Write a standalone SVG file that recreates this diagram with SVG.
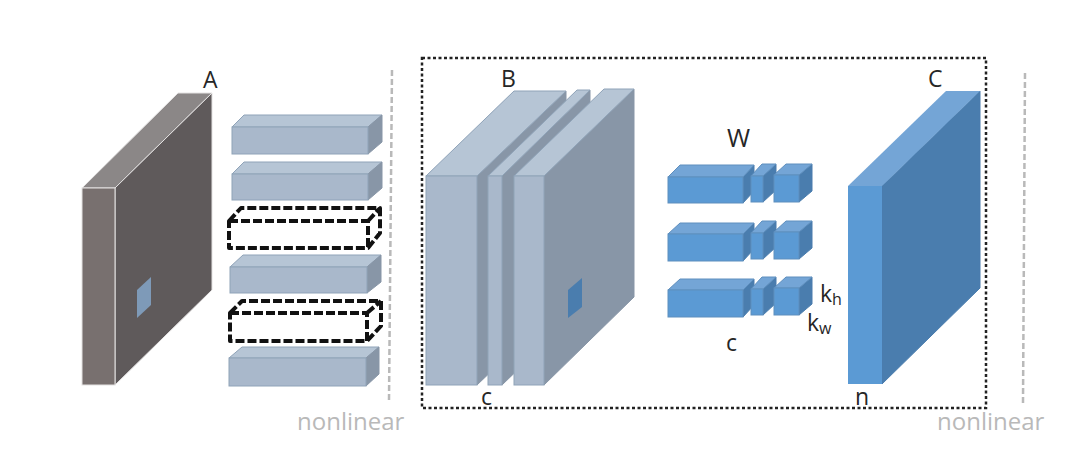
<svg xmlns="http://www.w3.org/2000/svg" width="1080" height="467" viewBox="0 0 1080 467">
<style>
text{font-family:"Open Sans","Liberation Sans",sans-serif;fill:#262626}
.lb{font-size:23px}
.nl{font-size:24px;fill:#b9b9b9}
.sub{font-size:16px}
.gt{fill:#8b8787;stroke:#e4e2e2;stroke-width:1}
.gf{fill:#78706f;stroke:#e4e2e2;stroke-width:1}
.gs{fill:#5f5a5b;stroke:#e4e2e2;stroke-width:1}
.t{fill:#b6c5d5;stroke:#8fa3b8;stroke-width:1}
.f{fill:#a9b8cb;stroke:#8fa3b8;stroke-width:1}
.s{fill:#8896a7;stroke:#8896a7;stroke-width:1}
.bt{fill:#74a5d6;stroke:#5f8fbe;stroke-width:1}
.bf{fill:#5b9ad4;stroke:#5f8fbe;stroke-width:1}
.bs{fill:#4a7dae;stroke:#4a7dae;stroke-width:1}
.d{fill:none;stroke:#111;stroke-width:4;stroke-dasharray:9 3;stroke-linejoin:round}
.sep{fill:none;stroke:#b9b9b9;stroke-width:2.5;stroke-dasharray:6 3}
.box{fill:none;stroke:#222;stroke-width:2.5;stroke-dasharray:3 2.5}
</style>
<rect width="1080" height="467" fill="#fff"/>
<g id="block-a">
<polygon class="gt" points="82,188 178,93 212,93 115,188"/>
<polygon class="gs" points="115,188 212,93 212,290 115,385"/>
<rect class="gf" x="82" y="188" width="33" height="197"/>
<polygon points="137,290 151,277 151,305 137,318" fill="#7e9ab8"/>
<text class="lb" x="203" y="88">A</text>
</g>
<g id="bar-1"><polygon class="t" points="232,127 244,115 382,115 368,127"/><polygon class="s" points="368,127 382,115 382,142 368,154"/><rect class="f" x="232" y="127" width="136" height="27"/></g>
<g id="bar-2"><polygon class="t" points="232,174 244,162 382,162 368,174"/><polygon class="s" points="368,174 382,162 382,188 368,200"/><rect class="f" x="232" y="174" width="136" height="26"/></g>
<g id="bar-3-dashed"><path class="d" d="M229,221 L241,208 H380 V233 L368,248 H229 Z M229,221 H368 V248 M368,221 L380,208"/></g>
<g id="bar-4"><polygon class="t" points="230,267 243,255 381,255 367,267"/><polygon class="s" points="367,267 381,255 381,282 367,293"/><rect class="f" x="230" y="267" width="137" height="26"/></g>
<g id="bar-5-dashed"><path class="d" d="M230,313 L242,301 H381 V326 L367,341 H230 Z M230,313 H367 V341 M367,313 L381,301"/></g>
<g id="bar-6"><polygon class="t" points="229,358 242,347 379,347 366,358"/><polygon class="s" points="366,358 379,347 379,374 366,386"/><rect class="f" x="229" y="358" width="137" height="28"/></g>
<g id="nonlinear-left">
<path class="sep" d="M392,70 L389,400"/>
<text class="nl" x="297" y="430">nonlinear</text>
</g>
<g id="block-b">
<polygon class="s" points="477,176 566,91 566,300 477,385"/>
<polygon class="t" points="426,176 514,91 566,91 477,176"/>
<rect class="f" x="426" y="176" width="51" height="209"/>
<polygon class="s" points="502,176 590,90 590,300 502,385"/>
<polygon class="t" points="488,176 577,90 590,90 502,176"/>
<rect class="f" x="488" y="176" width="14" height="209"/>
<polygon class="s" points="544,176 634,89 634,297 544,385"/>
<polygon class="t" points="514,176 604,89 634,89 544,176"/>
<rect class="f" x="514" y="176" width="30" height="209"/>
<polygon points="568,290 582,278 582,307 568,318" fill="#4a7dae"/>
<text class="lb" x="501" y="87">B</text>
<text class="lb" x="481" y="405">c</text>
</g>
<g id="filter-row-1">
<polygon class="bs" points="743,177 754,165 754,191 743,203"/><polygon class="bt" points="668,177 680,165 754,165 743,177"/><rect class="bf" x="668" y="177" width="75" height="26"/>
<polygon class="bs" points="763,176 776,164 776,190 763,202"/><polygon class="bt" points="751,176 762,164 776,164 763,176"/><rect class="bf" x="751" y="176" width="12" height="26"/>
<polygon class="bs" points="799,175 812,164 812,191 799,202"/><polygon class="bt" points="774,175 786,164 812,164 799,175"/><rect class="bf" x="774" y="175" width="25" height="27"/>
</g>
<g id="filter-row-2">
<polygon class="bs" points="743,234 754,223 754,249 743,261"/><polygon class="bt" points="668,234 680,223 754,223 743,234"/><rect class="bf" x="668" y="234" width="75" height="27"/>
<polygon class="bs" points="763,233 776,221 776,247 763,259"/><polygon class="bt" points="751,233 762,221 776,221 763,233"/><rect class="bf" x="751" y="233" width="12" height="26"/>
<polygon class="bs" points="799,232 812,221 812,248 799,259"/><polygon class="bt" points="774,232 786,221 812,221 799,232"/><rect class="bf" x="774" y="232" width="25" height="27"/>
</g>
<g id="filter-row-3">
<polygon class="bs" points="743,290 754,279 754,305 743,317"/><polygon class="bt" points="668,290 680,279 754,279 743,290"/><rect class="bf" x="668" y="290" width="75" height="27"/>
<polygon class="bs" points="763,289 776,277 776,303 763,315"/><polygon class="bt" points="751,289 762,277 776,277 763,289"/><rect class="bf" x="751" y="289" width="12" height="26"/>
<polygon class="bs" points="799,288 812,277 812,304 799,315"/><polygon class="bt" points="774,288 786,277 812,277 799,288"/><rect class="bf" x="774" y="288" width="25" height="27"/>
</g>
<g id="filter-labels">
<text class="lb" x="727" y="147" style="font-size:25px">W</text>
<text class="lb" x="726" y="351">c</text>
<text class="lb" x="820" y="302">k<tspan class="sub" dy="3">h</tspan></text>
<text class="lb" x="807" y="331">k<tspan class="sub" dy="3">w</tspan></text>
</g>
<g id="block-c">
<polygon class="bs" points="882,186 980,91 980,288 882,384"/>
<polygon class="bt" points="848,186 946,91 980,91 882,186" style="stroke:none"/>
<rect class="bf" x="848" y="186" width="34" height="198" style="stroke:none"/>
<text class="lb" x="928" y="87">C</text>
<text class="lb" x="855" y="405">n</text>
</g>
<g id="connectors">
<rect class="box" x="422" y="58" width="564" height="350"/>
</g>
<g id="nonlinear-right">
<path class="sep" d="M1025,73 L1023,403"/>
<text class="nl" x="937" y="430">nonlinear</text>
</g>
</svg>
